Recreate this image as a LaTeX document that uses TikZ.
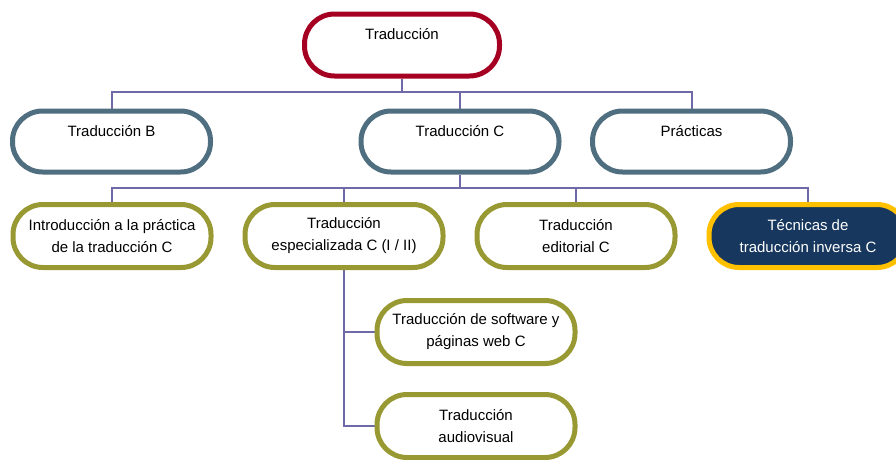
\documentclass[tikz,border=0pt]{standalone}
\usepackage{fontspec}
\setmainfont{Liberation Sans}
\usetikzlibrary{positioning, calc, backgrounds}
\definecolor{rootred}{RGB}{165,0,33}
\definecolor{slateblue}{RGB}{79,110,128}
\definecolor{olivegreen}{RGB}{152,153,51}
\definecolor{navyfill}{RGB}{23,55,94}
\definecolor{goldline}{RGB}{255,192,0}
\definecolor{linkpurple}{RGB}{110,106,168}

\begin{document}
\begin{tikzpicture}[x=1pt,y=-1pt,
    pill/.style={draw,line width=5pt,fill=white,rounded corners=30pt,
        minimum width=198pt,minimum height=62pt,inner sep=0pt,
        align=center,font=\fontsize{15}{22}\selectfont},
    rootpill/.style={pill,draw=rootred,minimum width=195pt},
    coursepill/.style={pill,draw=slateblue,minimum height=61pt},
    subpill/.style={pill,draw=olivegreen,minimum height=63pt},
    keypill/.style={pill,draw=goldline,fill=navyfill,text=white,minimum height=63pt},
    link/.style={draw=linkpurple,line width=2pt}]
\useasboundingbox (0,0) rectangle (896,459);
% === TOP: root ===
\node[rootpill] (root) at (402,45) {Traducción\\ \mbox{}};
% === LEVEL 1: courses ===
\node[coursepill] (tradb) at (111.5,141.5) {Traducción B\\ \mbox{}};
\node[coursepill] (tradc) at (460,141.5) {Traducción C\\ \mbox{}};
\node[coursepill] (pract) at (691.5,141.5) {Prácticas\\ \mbox{}};
% === LEVEL 2: subjects of Traducción C ===
\node[subpill] (intro) at (112,236) {Introducción a la práctica\\de la traducción C};
\node[subpill] (espec) at (344,236) {Traducción\\especializada C (I / II)};
\node[subpill] (edit) at (576,236) {Traducción\\editorial C};
\node[keypill] (tecn) at (808,236) {Técnicas de\\traducción inversa C};
% === LEVEL 3: branches of especializada ===
\node[subpill] (softw) at (476,332) {Traducción de software y\\páginas web C};
\node[subpill] (audio) at (476,426) {Traducción\\audiovisual};
% === connectors ===
\coordinate (busA) at (402,92);
\coordinate (busB) at (460,188);
\begin{scope}[on background layer]
    \draw[link] (root.south) -- (busA) -| (tradb.north);
    \draw[link] (busA) -| (tradc.north);
    \draw[link] (busA) -| (pract.north);
    \draw[link] (tradc.south) -- (busB) -| (intro.north);
    \draw[link] (busB) -| (espec.north);
    \draw[link] (busB) -| (edit.north);
    \draw[link] (busB) -| (tecn.north);
    \draw[link] (espec.south) |- (softw.west);
    \draw[link] (espec.south) |- (audio.west);
\end{scope}
\end{tikzpicture}
\end{document}
